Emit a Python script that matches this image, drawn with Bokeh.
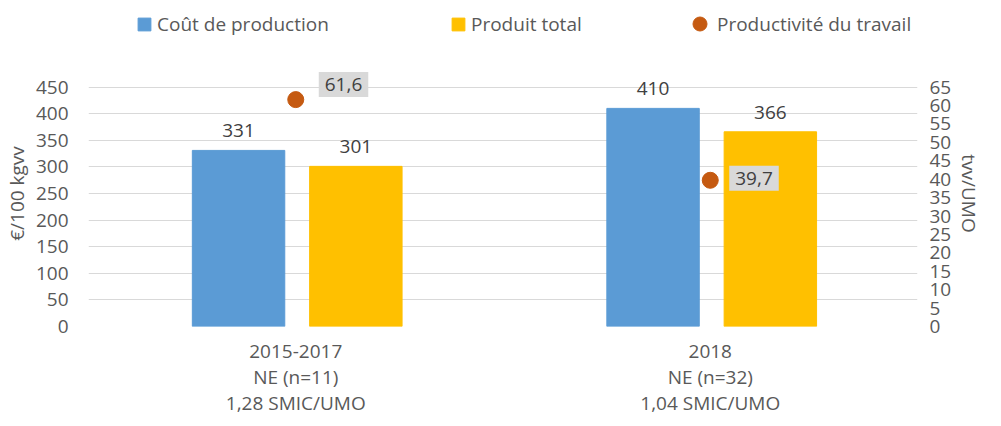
from bokeh.plotting import figure
from bokeh.layouts import column
from bokeh.models import (ColumnDataSource, LinearAxis, Range1d, FixedTicker,
                          LabelSet, Legend, LegendItem)
from bokeh.core.properties import value
from bokeh.transform import dodge
from bokeh.embed import file_html
from bokeh.resources import INLINE

# ---- data ----
categories = ["2015-2017\nNE (n=11)\n1,28 SMIC/UMO", "2018\nNE (n=32)\n1,04 SMIC/UMO"]
cout_production = [331, 410]
produit_total = [301, 366]
productivite = [61.6, 39.7]
left_ticks = [0, 50, 100, 150, 200, 250, 300, 350, 400, 450]
right_ticks = [0, 5, 10, 15, 20, 25, 30, 35, 40, 45, 50, 55, 60, 65]

FONT = "Open Sans"
TXT = "#595959"
BLUE = "#5B9BD5"
YELLOW = "#FFC000"
ORANGE = "#C55A11"
GRID = "#D9D9D9"

# both axes share the same pixel span (450 <-> 65); headroom above the top tick
left_max = 500
right_max = left_max * right_ticks[-1] / left_ticks[-1]

src = ColumnDataSource(dict(
    cat=categories,
    cout=cout_production,
    produit=produit_total,
    prod=productivite,
    cout_lbl=[str(v) for v in cout_production],
    produit_lbl=[str(v) for v in produit_total],
    prod_lbl=[f"{v:.1f}".replace(".", ",") for v in productivite],
))

# ---------------- main chart ----------------
p = figure(x_range=categories, y_range=Range1d(0, left_max), width=985, height=368,
           output_backend="svg", toolbar_location=None,
           min_border_left=84, min_border_right=50, min_border_top=10, min_border_bottom=90)
p.extra_y_ranges = {"right": Range1d(0, right_max)}
p.outline_line_color = None
p.background_fill_color = "white"
p.border_fill_color = "white"

p.vbar(x=dodge("cat", -0.138, range=p.x_range), top="cout", width=0.223,
       source=src, fill_color=BLUE, line_color=BLUE)
p.vbar(x=dodge("cat", 0.145, range=p.x_range), top="produit", width=0.223,
       source=src, fill_color=YELLOW, line_color=YELLOW)
p.scatter(x="cat", y="prod", source=src, size=16, marker="circle",
          fill_color=ORANGE, line_color=ORANGE, y_range_name="right")

# bar labels
for col, lbl, off in (("cout", "cout_lbl", -0.138), ("produit", "produit_lbl", 0.145)):
    p.add_layout(LabelSet(x=dodge("cat", off, range=p.x_range), y=col, text=lbl, source=src,
                          text_align="center", text_baseline="alphabetic", y_offset=13,
                          text_font=value(FONT), text_font_size="19px", text_color="#404040"))

# dot labels with grey boxes (per-point offsets are styling)
dx = [23, 19]
dy = [15, 2]
for i in range(len(productivite)):
    p.text(x=[src.data["cat"][i]], y=[src.data["prod"][i]], text=[src.data["prod_lbl"][i]],
           y_range_name="right", x_offset=dx[i], y_offset=-dy[i],
           text_align="left", text_baseline="middle",
           text_font=value(FONT), text_font_size="19px", text_color="#404040",
           background_fill_color=GRID, padding=6)

# axes
p.xgrid.grid_line_color = None
p.ygrid.grid_line_color = GRID
p.ygrid.ticker = FixedTicker(ticks=left_ticks)

yl = p.yaxis[0]
yl.ticker = FixedTicker(ticks=left_ticks)
yl.axis_label = "€/100 kgvv"
yr = LinearAxis(y_range_name="right", ticker=FixedTicker(ticks=right_ticks), axis_label="tvv/UMO")
p.add_layout(yr, "right")

for ax in (yl, yr):
    ax.axis_line_color = None
    ax.major_tick_line_color = None
    ax.minor_tick_line_color = None
    ax.major_tick_out = 0
    ax.major_label_text_font = FONT
    ax.major_label_text_font_size = "19px"
    ax.major_label_text_color = TXT
    ax.axis_label_text_font = FONT
    ax.axis_label_text_font_size = "19px"
    ax.axis_label_text_color = TXT
    ax.axis_label_text_font_style = "normal"
yl.major_label_standoff = 20
yl.axis_label_standoff = 3
yr.major_label_standoff = 12
yr.axis_label_standoff = 2

xa = p.xaxis[0]
xa.axis_line_color = None
xa.major_tick_line_color = None
xa.minor_tick_line_color = None
xa.major_tick_out = 0
xa.major_label_standoff = 11
xa.major_label_text_font = FONT
xa.major_label_text_font_size = "19px"
xa.major_label_text_color = TXT
xa.major_label_text_line_height = 1.0

# ---------------- legend strip ----------------
lg = figure(x_range=categories, y_range=Range1d(0, 1), width=985, height=50,
            output_backend="svg", toolbar_location=None,
            x_axis_location=None, y_axis_location=None, min_border=0)
lg.outline_line_color = None
lg.xgrid.grid_line_color = None
lg.ygrid.grid_line_color = None
r1 = lg.vbar(x="cat", top="cout", width=0.2, source=src, fill_color=BLUE, line_color=BLUE,
             visible=False)
r2 = lg.vbar(x="cat", top="produit", width=0.2, source=src, fill_color=YELLOW, line_color=YELLOW,
             visible=False)
r3 = lg.scatter(x="cat", y="prod", size=16, marker="circle", source=src,
                fill_color=ORANGE, line_color=ORANGE, visible=False)


def add_legend(label, renderer, x, y, gsize, standoff):
    leg = Legend(items=[LegendItem(label=label, renderers=[renderer])],
                 location=(x, y), orientation="horizontal",
                 glyph_width=gsize, glyph_height=gsize, label_standoff=standoff,
                 padding=0, margin=0, spacing=0, border_line_color=None,
                 background_fill_alpha=0, click_policy="none",
                 label_text_font=FONT, label_text_font_size="19px", label_text_color=TXT)
    lg.add_layout(leg, "center")


add_legend("Coût de production", r1, 48, 13, 16, 5)
add_legend("Produit total", r2, 362, 13, 16, 5)
add_legend("Productivité du travail", r3, 594, 9, 35, -7)

layout = column(lg, p, spacing=0)
open("out.html", "w").write(file_html(layout, INLINE))
